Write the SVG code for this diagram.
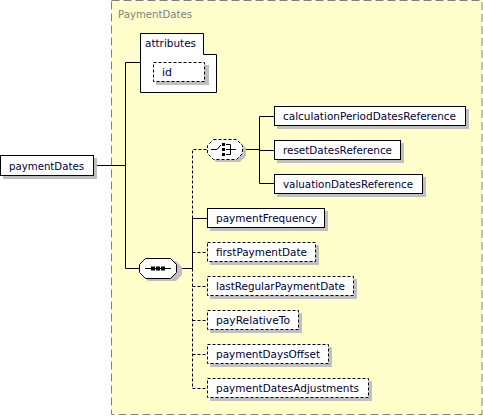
<svg xmlns="http://www.w3.org/2000/svg" width="483" height="416" viewBox="0 0 483 416">
<style>
text{font-family:"DejaVu Sans","Liberation Sans",sans-serif;font-size:11px;fill:#000033}
.box{fill:#fff;stroke:#000;stroke-width:1}
.opt{fill:#fff;stroke:#000;stroke-width:1;stroke-dasharray:3,2}
.sh{fill:#c0c0c0}
.ln{fill:none;stroke:#000;stroke-width:1}
.dl{fill:none;stroke:#000;stroke-width:1;stroke-dasharray:3,2}
</style>
<rect x="111.5" y="0.5" width="370.5" height="414" fill="#ffffcc" stroke="#808080" stroke-dasharray="8,4"/>
<text x="118" y="18" style="fill:#7f7f7f" textLength="74" lengthAdjust="spacingAndGlyphs">PaymentDates</text>
<g id="connectors">
<path class="ln" d="M94,165.5H125.5M125.5,62.5V268.5H140M140,62.5H125.5"/>
<path class="ln" d="M176,268.5H192.5V218.5H207"/>
<path class="dl" d="M192.5,218.5V149.5H207"/>
<path class="dl" d="M192.5,268.5V388.5H207M192.5,252.5H207M192.5,286.5H207M192.5,320.5H207M192.5,354.5H207"/>
<path class="ln" d="M242,149.5H259.5M259.5,116.5V183.5M259.5,116.5H274M259.5,150.5H274M259.5,183.5H274"/>
</g>
<g id="paymentDates">
<rect class="sh" x="3" y="158" width="94" height="21"/>
<rect class="box" x="0.5" y="155.5" width="93" height="20"/>
<text x="9" y="170" textLength="75" lengthAdjust="spacingAndGlyphs">paymentDates</text>
</g>
<g id="attributes">
<path class="box" d="M140.5,33.5H203.5V54.5H216.5V92.5H140.5Z"/>
<text x="145" y="47" textLength="51" lengthAdjust="spacingAndGlyphs">attributes</text>
</g>
<g id="id">
<rect class="sh" x="156" y="65" width="53" height="20"/>
<rect class="opt" x="153.5" y="62.5" width="51" height="19"/>
<text x="162" y="76">id</text>
</g>
<g id="sequence">
<path class="sh" d="M148,261H176L182,267V275L176,281H148L142,275V267Z"/>
<path class="box" d="M145.5,258.5H170.5L176.5,264.5V272.5L170.5,278.5H145.5L139.5,272.5V264.5Z"/>
<path class="ln" d="M145,268.5H171"/>
<rect x="151" y="266.5" width="4" height="4" fill="#000"/>
<rect x="156" y="266.5" width="4" height="4" fill="#000"/>
<rect x="161" y="266.5" width="4" height="4" fill="#000"/>
</g>
<g id="choice">
<path class="sh" d="M216,142H240L246,148V156L240,162H216L210,156V148Z"/>
<path class="opt" d="M213.5,139.5H236.5L242.5,145.5V153.5L236.5,159.5H213.5L207.5,153.5V145.5Z"/>
<path class="ln" d="M211,149.5H217L221,145"/>
<rect x="222" y="143" width="3" height="3" fill="#000"/>
<rect x="222" y="148" width="3" height="3" fill="#000"/>
<rect x="222" y="153" width="3" height="3" fill="#000"/>
<path class="ln" d="M226,144.5H230.5V154.5H226M226,149.5H236"/>
</g>
<g id="calculationPeriodDatesReference">
<rect class="sh" x="277" y="109" width="192" height="20"/>
<rect class="box" x="274.5" y="106.5" width="191" height="19"/>
<text x="283" y="120" textLength="173" lengthAdjust="spacingAndGlyphs">calculationPeriodDatesReference</text>
</g>
<g id="resetDatesReference">
<rect class="sh" x="277" y="143" width="127" height="20"/>
<rect class="box" x="274.5" y="140.5" width="126" height="19"/>
<text x="283" y="154" textLength="109" lengthAdjust="spacingAndGlyphs">resetDatesReference</text>
</g>
<g id="valuationDatesReference">
<rect class="sh" x="277" y="177" width="149" height="20"/>
<rect class="box" x="274.5" y="174.5" width="148" height="19"/>
<text x="283" y="188" textLength="130" lengthAdjust="spacingAndGlyphs">valuationDatesReference</text>
</g>
<g id="paymentFrequency">
<rect class="sh" x="210" y="211" width="118" height="20"/>
<rect class="box" x="207.5" y="208.5" width="117" height="19"/>
<text x="216" y="222" textLength="101" lengthAdjust="spacingAndGlyphs">paymentFrequency</text>
</g>
<g id="firstPaymentDate">
<rect class="sh" x="210" y="245" width="109" height="20"/>
<rect class="opt" x="207.5" y="242.5" width="108" height="19"/>
<text x="216" y="256" textLength="91" lengthAdjust="spacingAndGlyphs">firstPaymentDate</text>
</g>
<g id="lastRegularPaymentDate">
<rect class="sh" x="210" y="279" width="147" height="20"/>
<rect class="opt" x="207.5" y="276.5" width="146" height="19"/>
<text x="216" y="290" textLength="129" lengthAdjust="spacingAndGlyphs">lastRegularPaymentDate</text>
</g>
<g id="payRelativeTo">
<rect class="sh" x="210" y="313" width="92" height="20"/>
<rect class="opt" x="207.5" y="310.5" width="91" height="19"/>
<text x="216" y="324" textLength="74" lengthAdjust="spacingAndGlyphs">payRelativeTo</text>
</g>
<g id="paymentDaysOffset">
<rect class="sh" x="210" y="347" width="122" height="20"/>
<rect class="opt" x="207.5" y="344.5" width="121" height="19"/>
<text x="216" y="358" textLength="104" lengthAdjust="spacingAndGlyphs">paymentDaysOffset</text>
</g>
<g id="paymentDatesAdjustments">
<rect class="sh" x="210" y="381" width="162" height="20"/>
<rect class="opt" x="207.5" y="378.5" width="161" height="19"/>
<text x="216" y="392" textLength="143" lengthAdjust="spacingAndGlyphs">paymentDatesAdjustments</text>
</g>
</svg>
